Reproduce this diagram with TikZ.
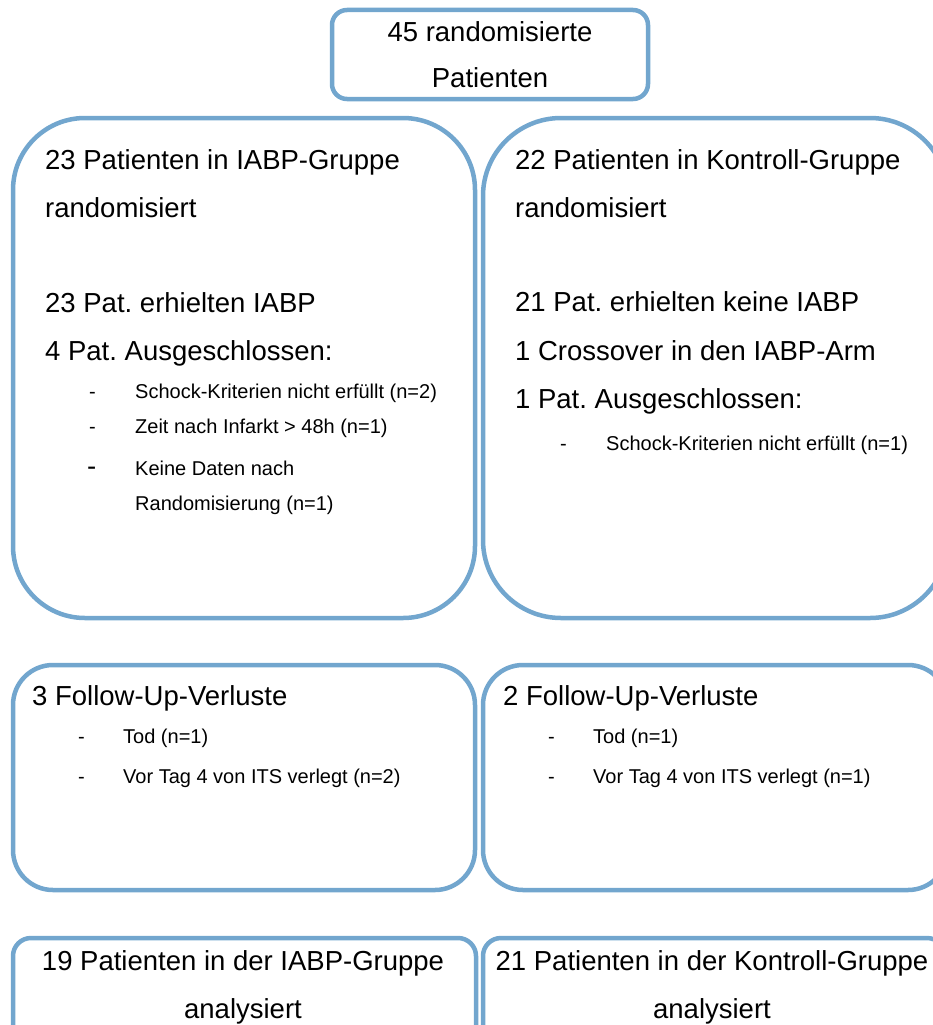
\documentclass[tikz,border=0pt]{standalone}
\usepackage{fontspec}
\setmainfont{Liberation Sans}
\frenchspacing
\definecolor{boxblue}{RGB}{114,166,206}
\begin{document}
\begin{tikzpicture}[x=1pt,y=-1pt,
  frame/.style={draw=boxblue, line width=4.5pt, inner sep=0pt, outer sep=0pt},
  big/.style={font=\fontsize{27.5}{33}\selectfont, inner sep=0pt, anchor=base west},
  bigc/.style={font=\fontsize{27.5}{33}\selectfont, inner sep=0pt, anchor=base},
  small/.style={font=\fontsize{20}{24}\selectfont, inner sep=0pt, anchor=base west}]
\useasboundingbox (0,0) rectangle (933,1025);
\clip (0,0) rectangle (933,1025);
% frames
\node[frame, rounded corners=15pt, minimum width=316pt, minimum height=89pt] (topbox) at (490,54.5) {};
\node[frame, rounded corners=72pt, minimum width=462pt, minimum height=500pt] (leftbig) at (244,368) {};
\node[frame, rounded corners=78pt, minimum width=465pt, minimum height=500pt] (rightbig) at (715.5,368) {};
\node[frame, rounded corners=40pt, minimum width=462pt, minimum height=225pt] (leftfu) at (244,777.5) {};
\node[frame, rounded corners=40pt, minimum width=465pt, minimum height=225pt] (rightfu) at (715.5,777.5) {};
\node[frame, rounded corners=18pt, minimum width=463pt, minimum height=124pt] (leftan) at (244.5,1000) {};
\node[frame, rounded corners=18pt, minimum width=462pt, minimum height=124pt] (rightan) at (714,1000) {};
% top
\node[bigc] (t1) at (490,42) {45 randomisierte};
\node[bigc] (t2) at (490,87) {Patienten};
% left big box
\node[big] (l1) at (45,169) {23 Patienten in IABP-Gruppe};
\node[big] (l2) at (45,217) {randomisiert};
\node[big] (l3) at (45,312) {23 Pat. erhielten IABP};
\node[big] (l4) at (45,360) {4 Pat. Ausgeschlossen:};
\node[small] (ld1) at (89,398) {-};
\node[small] (ls1) at (135,398) {Schock-Kriterien nicht erfüllt (n=2)};
\node[small] (ld2) at (89,433) {-};
\node[small] (ls2) at (135,433) {Zeit nach Infarkt > 48h (n=1)};
\node[big] (ld3) at (87,475) {-};
\node[small] (ls3) at (135,475) {Keine Daten nach};
\node[small] (ls4) at (135,510) {Randomisierung (n=1)};
% right big box
\node[big] (r1) at (515,169) {22 Patienten in Kontroll-Gruppe};
\node[big] (r2) at (515,217) {randomisiert};
\node[big] (r3) at (515,311) {21 Pat. erhielten keine IABP};
\node[big] (r4) at (515,360) {1 Crossover in den IABP-Arm};
\node[big] (r5) at (515,408) {1 Pat. Ausgeschlossen:};
\node[small] (rd1) at (560,450) {-};
\node[small] (rs1) at (606,450) {Schock-Kriterien nicht erfüllt (n=1)};
% follow-up boxes
\node[big] (f1) at (32,705) {3 Follow-Up-Verluste};
\node[small] (fd1) at (78,743) {-};
\node[small] (fs1) at (123,743) {Tod (n=1)};
\node[small] (fd2) at (78,783) {-};
\node[small] (fs2) at (123,783) {Vor Tag 4 von ITS verlegt (n=2)};
\node[big] (g1) at (503,705) {2 Follow-Up-Verluste};
\node[small] (gd1) at (548,743) {-};
\node[small] (gs1) at (593,743) {Tod (n=1)};
\node[small] (gd2) at (548,783) {-};
\node[small] (gs2) at (593,783) {Vor Tag 4 von ITS verlegt (n=1)};
% analysed
\node[bigc] (a1) at (243,970) {19 Patienten in der IABP-Gruppe};
\node[bigc] (a2) at (243,1018) {analysiert};
\node[bigc] (b1) at (712,970) {21 Patienten in der Kontroll-Gruppe};
\node[bigc] (b2) at (712,1018) {analysiert};
\end{tikzpicture}
\end{document}
